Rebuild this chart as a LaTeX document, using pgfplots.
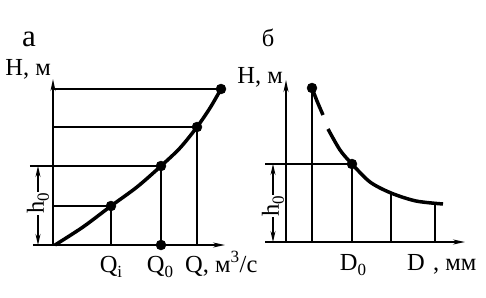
\documentclass[border=0pt]{standalone}
\usepackage{fontspec}
\setmainfont{Liberation Serif}
\usepackage{pgfplots}
\pgfplotsset{compat=1.18}
\usetikzlibrary{arrows.meta}
\newcommand\sub[1]{\raisebox{-0.45ex}{\fontsize{17}{17}\selectfont #1}}
\tikzset{arr/.style={line width=1.1pt, {Stealth[length=11pt,width=5pt]}-{Stealth[length=11pt,width=5pt]}}}
\pgfplotsset{panel/.style={
  x=1pt, y=1pt, anchor=origin,
  axis lines=middle, xtick=\empty, ytick=\empty, clip=false,
  axis line style={line width=1.7pt, -{Stealth[length=12pt,width=5pt]}},
  every node/.append style={font=\fontsize{24.5}{27}\selectfont},
}}
\begin{document}
\begin{tikzpicture}[font=\fontsize{24.5}{27}\selectfont]
\useasboundingbox (-53pt,-52pt) rectangle (433pt,245pt);
% panel a
\begin{axis}[panel, at={(0pt,0pt)}, xmin=-20, xmax=172, ymin=0, ymax=166]
\addplot[line width=1.2pt] coordinates {(0,39) (58,39) (58,0)};
\addplot[line width=1.2pt] coordinates {(-23,79) (108,79) (108,0)};
\addplot[line width=1.2pt] coordinates {(0,118) (144,118) (144,0)};
\addplot[line width=1.2pt] coordinates {(0,156) (168,156)};
\addplot[line width=3.5pt, smooth, tension=0.5] coordinates {(2,0) (30,18) (58,39) (84,58) (108,79) (127,97) (144,118) (157,137) (168,156)};
\addplot[only marks, mark=*, mark size=5pt] coordinates {(58,39) (108,79) (144,118) (168,156) (108,0)};
\draw[arr] (axis cs:-15,0) -- (axis cs:-15,79) node[pos=0.53, fill=white, rotate=90, inner sep=1pt] {h\sub{0}};
\node[anchor=base, font=\fontsize{31}{33}\selectfont] at (axis cs:-24,198) {а};
\node[anchor=base east, inner sep=0pt] at (axis cs:-2,169) {H, м};
\node[anchor=base, inner sep=0pt] at (axis cs:58,-27) {Q\sub{i}};
\node[anchor=base, inner sep=0pt] at (axis cs:107,-27) {Q\sub{0}};
\node[anchor=base west, inner sep=0pt] at (axis cs:132,-27) {Q, м\textsuperscript{3}/с};
\end{axis}
% panel b
\begin{axis}[panel, at={(233pt,3pt)}, xmin=-21, xmax=179, ymin=0, ymax=162]
\addplot[line width=1.2pt] coordinates {(26,0) (26,154)};
\addplot[line width=1.2pt] coordinates {(66,0) (66,78) (-21,78)};
\addplot[line width=1.2pt] coordinates {(105,0) (105,49)};
\addplot[line width=1.2pt] coordinates {(149,0) (149,39)};
\addplot[line width=3.5pt, smooth, tension=0.5] coordinates {(26,154) (31,141) (37,127)};
\addplot[line width=3.5pt, smooth, tension=0.5] coordinates {(42,113) (54,92) (66,78) (84,60) (105,49) (130,41) (157,38)};
\addplot[only marks, mark=*, mark size=5pt] coordinates {(26,154) (66,78)};
\draw[arr] (axis cs:-13,0) -- (axis cs:-13,78) node[pos=0.46, fill=white, rotate=90, inner sep=1pt] {h\sub{0}};
\node[anchor=base] at (axis cs:-18,195) {б};
\node[anchor=base east, inner sep=0pt] at (axis cs:-3,158) {H, м};
\node[anchor=base, inner sep=0pt] at (axis cs:67,-28) {D\sub{0}};
\node[anchor=base west, inner sep=0pt] at (axis cs:121,-28) {D\,\,, мм};
\end{axis}
\end{tikzpicture}
\end{document}
